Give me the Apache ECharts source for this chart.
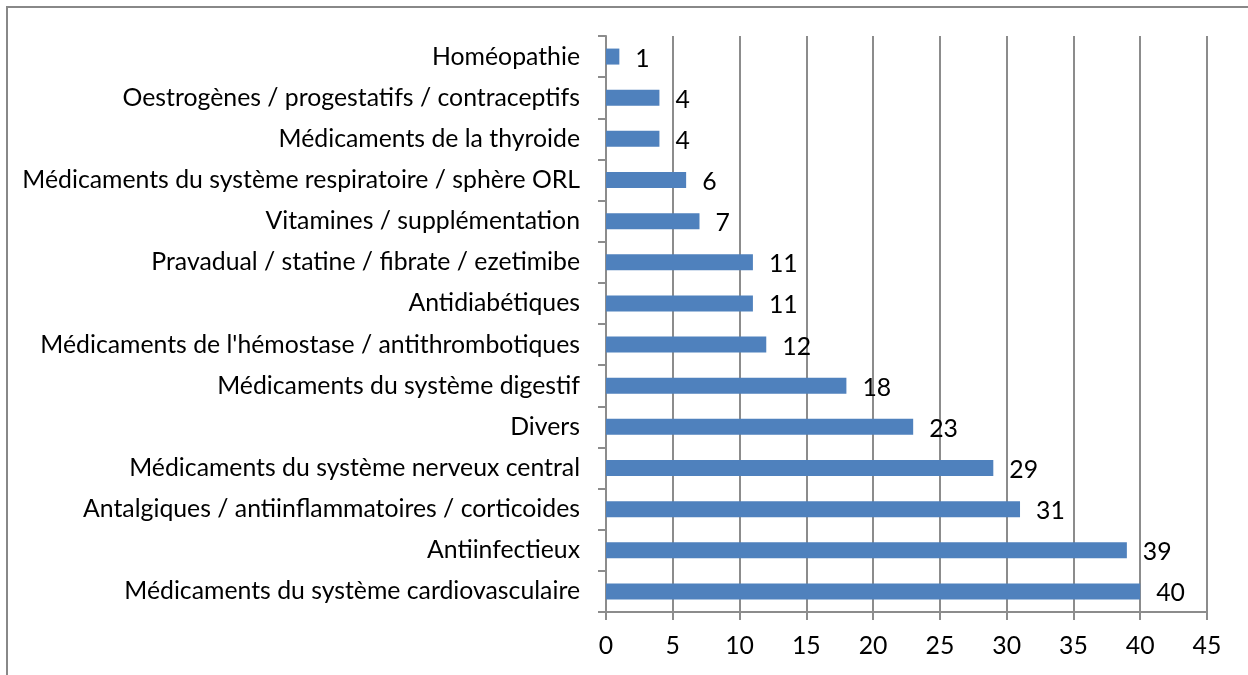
<!DOCTYPE html>
<html>
<head>
<meta charset="utf-8">
<script src="https://cdn.jsdelivr.net/npm/echarts@6/dist/echarts.min.js"></script>
<style>
  html, body { margin: 0; padding: 0; background: #fff; }
  #chart { width: 1248px; height: 675px; }
</style>
</head>
<body>
<div id="chart"></div>
<script>
// categories listed top to bottom as in the picture
var categories = [
	"Homéopathie",
	"Oestrogènes / progestatifs / contraceptifs",
	"Médicaments de la thyroide",
	"Médicaments du système respiratoire / sphère ORL",
	"Vitamines / supplémentation",
	"Pravadual / statine / fibrate / ezetimibe",
	"Antidiabétiques",
	"Médicaments de l'hémostase / antithrombotiques",
	"Médicaments du système digestif",
	"Divers",
	"Médicaments du système nerveux central",
	"Antalgiques / antiinflammatoires / corticoides",
	"Antiinfectieux",
	"Médicaments du système cardiovasculaire"
];
var counts = [1, 4, 4, 6, 7, 11, 11, 12, 18, 23, 29, 31, 39, 40];
var xMin = 0;
var xMax = 45;
var xStep = 5;

var gb = {
	font: "Lato",
	size: 24.8,
	bar: "#4F81BD",
	grid: "#8C8C8C",
	text: "#000"
};

var chart = echarts.init(document.getElementById('chart'));
chart.setOption({
	animation: false,
	textStyle: { fontFamily: gb.font },
	graphic: [{
		type: 'rect',
		shape: { x: 7, y: 7, width: 1300, height: 700 },
		style: { fill: 'none', stroke: '#888', lineWidth: 2 }
	}],
	grid: { left: 606, right: 41, top: 36, bottom: 63, containLabel: false },
	xAxis: {
		type: 'value',
		min: xMin,
		max: xMax,
		interval: xStep,
		axisLine: { show: true, lineStyle: { color: gb.grid, width: 2 } },
		axisTick: { show: true, length: 8, lineStyle: { color: gb.grid, width: 2 } },
		splitLine: { show: true, lineStyle: { color: gb.grid, width: 2 } },
		axisLabel: { color: gb.text, fontSize: gb.size, margin: 22, fontFamily: gb.font }
	},
	yAxis: {
		type: 'category',
		inverse: true,
		data: categories,
		axisLine: { show: true, lineStyle: { color: gb.grid, width: 2 } },
		axisTick: { show: true, length: 8, lineStyle: { color: gb.grid, width: 2 } },
		axisLabel: { color: gb.text, fontSize: gb.size, margin: 26, fontFamily: gb.font }
	},
	series: [{
		type: 'bar',
		data: counts,
		barWidth: 16,
		itemStyle: { color: gb.bar },
		label: {
			show: true,
			position: 'right',
			distance: 16,
			color: gb.text,
			fontSize: gb.size,
			fontFamily: gb.font,
			offset: [0, 2]
		}
	}]
});
</script>
</body>
</html>
